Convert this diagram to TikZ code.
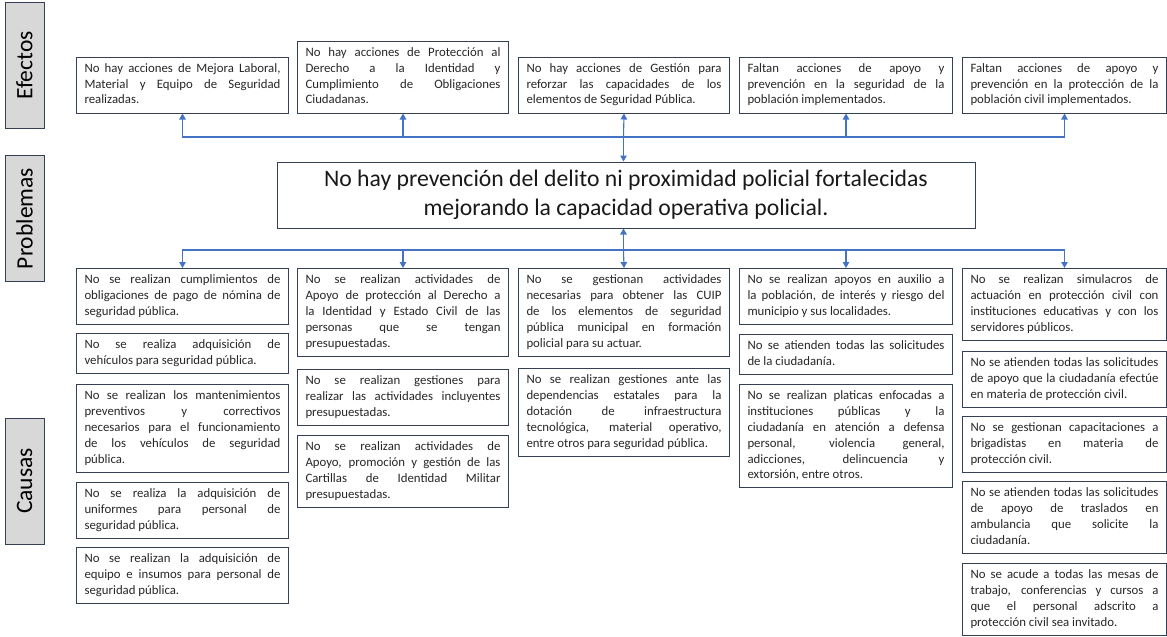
\documentclass[tikz,border=0pt]{standalone}
\usepackage{fontspec}
\setmainfont{Carlito}[WordSpace={1,3,0}]
\usetikzlibrary{arrows.meta}
\definecolor{boxline}{RGB}{52,64,84}
\definecolor{linkblue}{RGB}{68,114,196}
\definecolor{lblfill}{RGB}{216,216,216}
\hyphenpenalty=10000
\exhyphenpenalty=10000
\tolerance=9999
\emergencystretch=20pt

\begin{document}
\begin{tikzpicture}[x=1pt,y=-1pt,
  box/.style={draw=boxline,line width=1pt,inner xsep=8pt,inner ysep=4.3pt,text width=#1,align=justify,anchor=north west,text=black!85,font=\fontsize{12.8}{15.8}\selectfont,execute at begin node=\strut,execute at end node=\strut},
  box/.default=196pt,
  lbl/.style={draw=boxline,line width=1pt,fill=lblfill,rotate=90,minimum width=126pt,minimum height=39pt,inner sep=0pt,font=\fontsize{23.5}{28}\selectfont},
  link/.style={linkblue,line width=1.1pt,-{Triangle[length=6pt,width=6.5pt]}}
]
  \useasboundingbox (0,0) rectangle (1167,637);

  \node[lbl] (lef) at (24.5,65.5) {Efectos};
  \node[lbl] (lpr) at (24.5,218.5) {Problemas};
  \node[lbl] (lca) at (24.5,481) {Causas};

  \node[box,anchor=south west] (ef1) at (76,113.5) {No hay acciones de Mejora Laboral,\linebreak Material y Equipo de Seguridad\linebreak realizadas.};
  \node[box=195pt,anchor=south west] (ef2) at (297,113.5) {No hay acciones de Protección al\linebreak Derecho a la Identidad y\linebreak Cumplimiento de Obligaciones\linebreak Ciudadanas.};
  \node[box=195pt,anchor=south west] (ef3) at (518,113.5) {No hay acciones de Gestión para\linebreak reforzar las capacidades de los\linebreak elementos de Seguridad Pública.};
  \node[box=197pt,anchor=south west] (ef4) at (739,113.5) {Faltan acciones de apoyo y\linebreak prevención en la seguridad de la\linebreak población implementados.};
  \node[box=188pt,anchor=south west] (ef5) at (962,113.5) {Faltan acciones de apoyo y\linebreak prevención en la protección de la\linebreak población civil implementados.};

  \node[draw=boxline,line width=1pt,minimum width=698pt,minimum height=66pt,align=center,text=black!90,font=\fontsize{23.7}{28.5}\selectfont] (pr) at (626,195)
    {No hay prevención del delito ni proximidad policial fortalecidas\\mejorando la capacidad operativa policial.};

  \node[box] (ca1) at (76,268) {No se realizan cumplimientos de\linebreak obligaciones de pago de nómina de\linebreak seguridad pública.};
  \node[box] (ca2) at (76,333) {No se realiza adquisición de\linebreak vehículos para seguridad pública.};
  \node[box] (ca3) at (76,384) {No se realizan los mantenimientos\linebreak preventivos y correctivos\linebreak necesarios para el funcionamiento\linebreak de los vehículos de seguridad\linebreak pública.};
  \node[box] (ca4) at (76,482) {No se realiza la adquisición de\linebreak uniformes para personal de\linebreak seguridad pública.};
  \node[box] (ca5) at (76,547) {No se realizan la adquisición de\linebreak equipo e insumos para personal de\linebreak seguridad pública.};

  \node[box=195pt] (cb1) at (297,268) {No se realizan actividades de\linebreak Apoyo de protección al Derecho a\linebreak la Identidad y Estado Civil de las\linebreak personas que se tengan\linebreak presupuestadas.};
  \node[box=195pt] (cb2) at (297,369) {No se realizan gestiones para\linebreak realizar las actividades incluyentes\linebreak presupuestadas.};
  \node[box=195pt] (cb3) at (297,435) {No se realizan actividades de\linebreak Apoyo, promoción y gestión de las\linebreak Cartillas de Identidad Militar\linebreak presupuestadas.};

  \node[box=195pt] (cc1) at (518,268) {No se gestionan actividades\linebreak necesarias para obtener las CUIP\linebreak de los elementos de seguridad\linebreak pública municipal en formación\linebreak policial para su actuar.};
  \node[box=195pt] (cc2) at (518,368) {No se realizan gestiones ante las\linebreak dependencias estatales para la\linebreak dotación de infraestructura\linebreak tecnológica, material operativo,\linebreak entre otros para seguridad pública.};

  \node[box=197pt] (cd1) at (739,268) {No se realizan apoyos en auxilio a\linebreak la población, de interés y riesgo del\linebreak municipio y sus localidades.};
  \node[box=197pt] (cd2) at (739,334) {No se atienden todas las solicitudes\linebreak de la ciudadanía.};
  \node[box=197pt] (cd3) at (739,384) {No se realizan platicas enfocadas a\linebreak instituciones públicas y la\linebreak ciudadanía en atención a defensa\linebreak personal, violencia general,\linebreak adicciones, delincuencia y\linebreak extorsión, entre otros.};

  \node[box=188pt] (ce1) at (962,268) {No se realizan simulacros de\linebreak actuación en protección civil con\linebreak instituciones educativas y con los\linebreak servidores públicos.};
  \node[box=188pt] (ce2) at (962,351) {No se atienden todas las solicitudes\linebreak de apoyo que la ciudadanía efectúe\linebreak en materia de protección civil.};
  \node[box=188pt] (ce3) at (962,416) {No se gestionan capacitaciones a\linebreak brigadistas en materia de\linebreak protección civil.};
  \node[box=188pt] (ce4) at (962,481) {No se atienden todas las solicitudes\linebreak de apoyo de traslados en\linebreak ambulancia que solicite la\linebreak ciudadanía.};
  \node[box=188pt] (ce5) at (962,563) {No se acude a todas las mesas de\linebreak trabajo, conferencias y cursos a\linebreak que el personal adscrito a\linebreak protección civil sea invitado.};

  \coordinate (tbus) at (623.5,137);
  \coordinate (bbus) at (623.5,250);
  \draw[link] (tbus) -- (tbus |- pr.north);
  \draw[link] (tbus) -| (ef1.south);
  \draw[link] (tbus) -| (ef2.south);
  \draw[link] (tbus) -- (ef3.south);
  \draw[link] (tbus) -| (ef4.south);
  \draw[link] (tbus) -| (ef5.south);
  \draw[link] (bbus) -- (bbus |- pr.south);
  \draw[link] (bbus) -| (ca1.north);
  \draw[link] (bbus) -| (cb1.north);
  \draw[link] (bbus) -- (cc1.north);
  \draw[link] (bbus) -| (cd1.north);
  \draw[link] (bbus) -| (ce1.north);
\end{tikzpicture}
\end{document}
